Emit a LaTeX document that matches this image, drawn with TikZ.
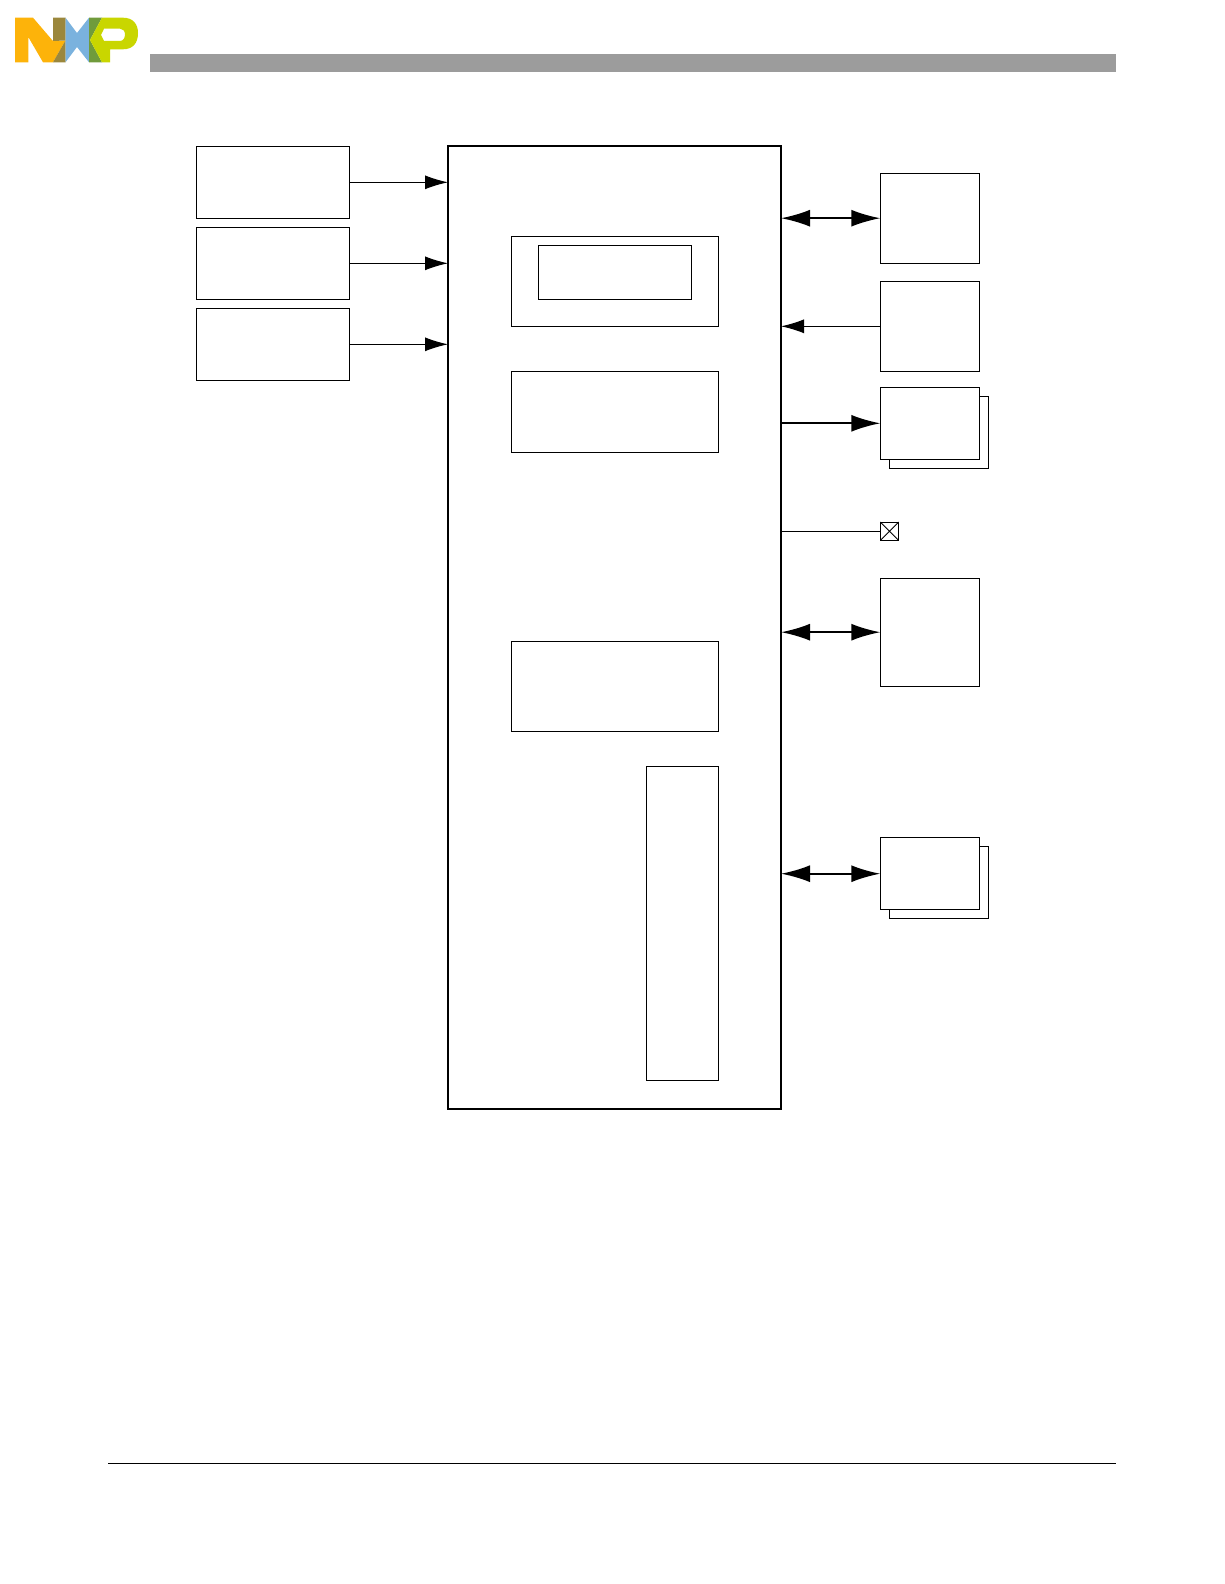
\documentclass[tikz,border=0pt]{standalone}
\usetikzlibrary{arrows.meta}
\definecolor{nxporange}{RGB}{253,179,10}
\definecolor{nxpbrown}{RGB}{155,135,60}
\definecolor{nxpblue}{RGB}{122,178,222}
\definecolor{nxpgreen}{RGB}{112,155,60}
\definecolor{nxplime}{RGB}{201,214,0}
\tikzset{
  box/.style={draw=black,line width=1pt,fill=white,rectangle,anchor=north west,inner sep=0pt,outer sep=0pt},
  mainbox/.style={box,line width=2pt},
  thinarrow/.style={line width=1pt,-{Latex[length=23pt,width=14pt]}},
  thickarrow/.style={line width=2pt,-{Latex[length=29pt,width=17pt]}},
  bothways/.style={line width=2pt,{Latex[length=29pt,width=17pt]}-{Latex[length=29pt,width=17pt]}},
  plainline/.style={line width=1pt}
}
\begin{document}
\begin{tikzpicture}[x=1pt,y=-1pt]
\useasboundingbox (0,0) rectangle (1224,1584);
% logo
\fill[nxporange] (15,17.7) -- (33,17.7) -- (53,41) -- (65.5,40.5) -- (53,62.3) -- (43,62.3) -- (28.3,37) -- (28.3,62.3) -- (15,62.3) -- cycle;
\fill[nxpbrown] (53,17.7) -- (65.5,17.7) -- (65.5,40.5) -- (53,41) -- cycle;
\fill[nxpbrown] (65.5,40.5) -- (65.5,62.3) -- (53,62.3) -- cycle;
\fill[nxpblue] (65.5,17.7) -- (77,33) -- (89,17.7) -- (89,62.3) -- (77,47) -- (65.5,62.3) -- cycle;
\fill[nxpgreen] (89,17.7) -- (102,17.7) -- (90,40) -- (102,62.3) -- (89,62.3) -- cycle;
\fill[nxplime,even odd rule] (102,17.7) -- (123,17.7) .. controls (133,17.7) and (138,24) .. (138,33) .. controls (138,43) and (133,49.3) .. (123,49.3) -- (110,49.3) -- (110,62.3) -- (102,62.3) -- (90,40) -- cycle
  (101,35) -- (104,28.7) -- (120,28.7) .. controls (123,28.7) and (125,31) .. (125,34.5) .. controls (125,38) and (123,41) .. (120,41) -- (104,41) -- cycle;
% header bar and footer rule
\fill[black!39] (150,54) rectangle (1116,71.7);
\draw[line width=1pt] (108,1463) -- (1116,1463);
% main block
\node[mainbox,minimum width=333pt,minimum height=963pt] (main) at (448,145.7) {};
\node[box,minimum width=207.5pt,minimum height=89.7pt] (in1) at (511,236.3) {};
\node[box,minimum width=153.5pt,minimum height=53.6pt] (in1a) at (538.3,245.4) {};
\node[box,minimum width=207.5pt,minimum height=81pt] (in2) at (511,371) {};
\node[box,minimum width=207.5pt,minimum height=90pt] (in3) at (511,641) {};
\node[box,minimum width=72.2pt,minimum height=314pt] (in4) at (646.3,766) {};
% left
\node[box,minimum width=153.5pt,minimum height=72pt] (l1) at (196,146.3) {};
\node[box,minimum width=153.5pt,minimum height=72pt] (l2) at (196,227.3) {};
\node[box,minimum width=153.5pt,minimum height=72pt] (l3) at (196,308.3) {};
% right
\node[box,minimum width=99.4pt,minimum height=90pt] (r1) at (880.3,173.2) {};
\node[box,minimum width=99.4pt,minimum height=90pt] (r2) at (880.3,281.3) {};
\node[box,minimum width=99.4pt,minimum height=72pt] (r3b) at (889.3,396.3) {};
\node[box,minimum width=99.4pt,minimum height=72pt] (r3) at (880.3,387.3) {};
\node[box,minimum width=18.4pt,minimum height=18.4pt] (x) at (880.3,522) {};
\draw[line width=.8pt] (x.north west) -- (x.south east) (x.north east) -- (x.south west);
\node[box,minimum width=99.4pt,minimum height=108pt] (r5) at (880.3,578.2) {};
\node[box,minimum width=99.4pt,minimum height=72pt] (r6b) at (889.3,846.2) {};
\node[box,minimum width=99.4pt,minimum height=72pt] (r6) at (880.3,837.7) {};
% connectors
\draw[thinarrow] (l1.east) -- (l1.east -| main.west);
\draw[thinarrow] (l2.east) -- (l2.east -| main.west);
\draw[thinarrow] (l3.east) -- (l3.east -| main.west);
\draw[bothways] (r1.west -| main.east) -- (r1.west);
\draw[thinarrow] (r2.west) -- (r2.west -| main.east);
\draw[thickarrow] (r3.west -| main.east) -- (r3.west);
\draw[plainline] (x.west -| main.east) -- (x.west);
\draw[bothways] (r5.west -| main.east) -- (r5.west);
\draw[bothways] (r6.west -| main.east) -- (r6.west);
\end{tikzpicture}
\end{document}
